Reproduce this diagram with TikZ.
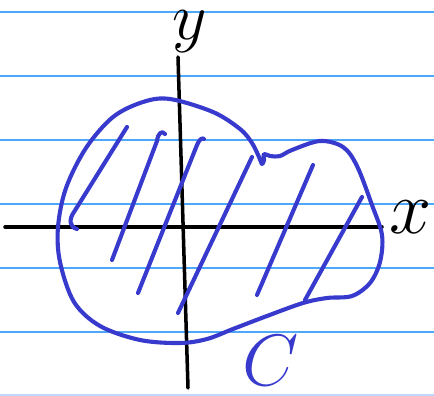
\documentclass[tikz,border=0pt]{standalone}
\usepackage{tikz}
\definecolor{rule}{RGB}{78,168,250}
\definecolor{paleline}{RGB}{190,215,250}
\definecolor{ink}{RGB}{55,58,205}

\begin{document}
\begin{tikzpicture}[x=0.03cm,y=-0.03cm,
 ruleline/.style={draw=rule,line width=0.9pt},
 axis/.style={draw=black,line width=3pt,line cap=round},
 curve/.style={draw=ink,line width=3.5pt,line cap=round,line join=round},
 hatch/.style={draw=ink,line width=3.5pt,line cap=round,line join=round},
 lbl/.style={font=\Huge,inner sep=0pt}]
\useasboundingbox (0,0) rectangle (434,396);
% ruled paper
\foreach \yy in {12,76,140,204,268,332}
  \draw[ruleline] (0,\yy) -- (434,\yy);
\draw[ruleline,draw=paleline] (0,395) -- (434,395);
% axes
\coordinate (xl) at (5,227); \coordinate (xr) at (382,227);
\coordinate (yt) at (178,57); \coordinate (yb) at (188,388);
\draw[axis] (xl) -- (xr);
\draw[axis] (yt) -- (yb);
\node[lbl,scale=2.6] (xlab) at (411,217) {$x$};
\node[lbl,scale=2.3] (ylab) at (190,32) {$y$};
% region and its boundary C
\draw[curve] plot[smooth cycle,tension=0.55] coordinates {
  (170,99) (213,112) (240,129) (252,143) (259,157) (262,164) (264,160)
  (264,154) (270,156) (280,156) (292,150) (320,141) (343,147) (357,166)
  (372,205) (382,235) (380,262) (370,283) (352,296) (327,298) (303,303)
  (267,316) (233,329) (207,339) (180,343) (140,340) (100,326) (74,302)
  (60,262) (58,227) (66,188) (86,148) (113,117) (143,102)};
\node[lbl,scale=2.5,text=ink] (clab) at (271,361) {$C$};
% hatching
\draw[hatch] (77,229) .. controls (69,227) and (69,219) .. (74,212) -- (127,127);
\draw[hatch] (165,134) .. controls (162,130) and (158,133) .. (157,141) -- (112,260);
\draw[hatch] (204,139) .. controls (202,137) and (199,140) .. (197,145) -- (138,293);
\draw[hatch] (252,157) -- (178,313);
\draw[hatch] (313,165) -- (257,295);
\draw[hatch] (362,197) -- (305,300);
\end{tikzpicture}
\end{document}
